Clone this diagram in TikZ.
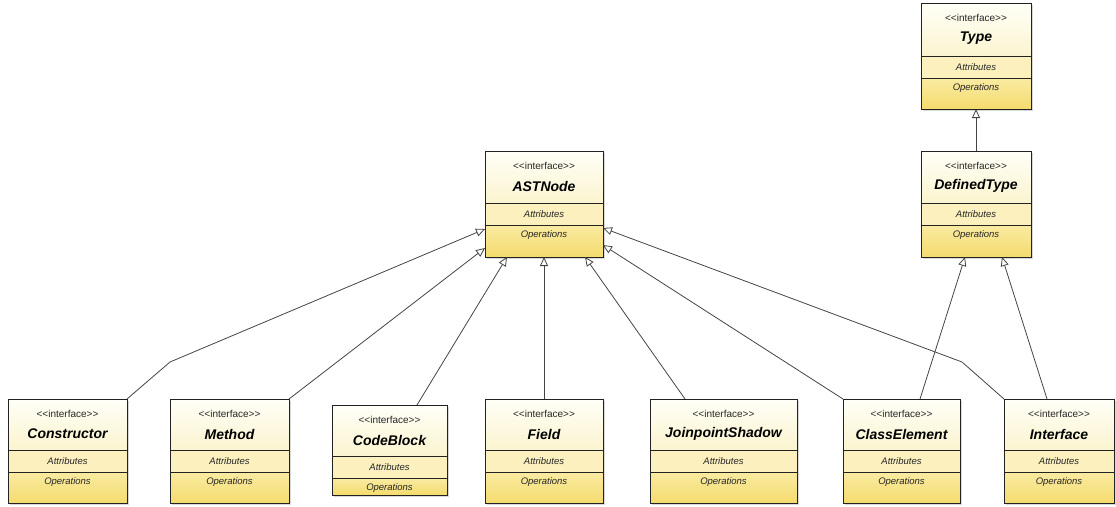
\documentclass[tikz,border=0pt]{standalone}
\usepackage{fontspec}
\setmainfont{Liberation Sans}
\usetikzlibrary{arrows.meta,calc,fit}

\definecolor{hdtop}{HTML}{FFFFF8}
\definecolor{hdbot}{HTML}{FBF4CF}
\definecolor{attrcol}{HTML}{FBF0BE}
\definecolor{optop}{HTML}{F9EBA2}
\definecolor{opbot}{HTML}{F5DB6E}
\definecolor{edgecol}{HTML}{222222}
\definecolor{linkcol}{HTML}{444444}

\tikzset{
  boxline/.style={draw=edgecol, line width=0.9pt},
  stereo/.style={font=\fontsize{10}{11}\selectfont, text=black!85},
  cname/.style={font=\fontsize{14}{15}\selectfont\bfseries\itshape},
  section/.style={font=\fontsize{9.5}{10}\selectfont\itshape, text=black!85},
  realizes/.style={draw=linkcol, line width=0.8pt,
    -{Triangle[open, length=9pt, width=8pt, fill=white]}},
  holder/.style={inner sep=0pt, outer sep=0pt, draw=none},
}

% #1 name, (#2,#3) top-left, (#4,#5) bottom-right, #6 attributes line, #7 operations line, #8 title
\newcommand\umliface[8]{%
  \fill[black!15] (#2+2,#3+2) rectangle (#4+2,#5+2);
  \shade[top color=hdtop, bottom color=hdbot] (#2,#3) rectangle (#4,#6);
  \fill[attrcol] (#2,#6) rectangle (#4,#7);
  \shade[top color=optop, bottom color=opbot] (#2,#7) rectangle (#4,#5);
  \draw[boxline] (#2,#6) -- (#4,#6) (#2,#7) -- (#4,#7);
  \draw[boxline] (#2,#3) rectangle (#4,#5);
  \coordinate (#1-tl) at (#2,#3);
  \coordinate (#1-br) at (#4,#5);
  \node[holder, fit=(#1-tl)(#1-br)] (#1) {};
  \node[stereo] (#1-st) at ({(#2+#4)/2},{#3+15}) {{<}{<}interface{>}{>}};
  \node[cname] (#1-nm) at ({(#2+#4)/2},{#3+35}) {#8};
  \node[section] (#1-at) at ({(#2+#4)/2},{(#6+#7)/2}) {Attributes};
  \node[section] (#1-op) at ({(#2+#4)/2},{#7+10}) {Operations};
}

\begin{document}
\begin{tikzpicture}[x=1pt, y=-1pt]
\useasboundingbox (0,0) rectangle (1116,506);

\umliface{type}{921}{3}{1031}{109}{56}{78}{Type}
\umliface{dt}{921}{151}{1031}{257}{203}{225}{DefinedType}
\umliface{ast}{485}{151}{603}{257}{203}{225}{ASTNode}

\umliface{con}{8}{399}{127}{503}{450}{472}{Constructor}
\umliface{meth}{170}{399}{289}{503}{450}{472}{Method}
\umliface{code}{332}{405}{447}{495}{456}{478}{CodeBlock}
\umliface{field}{485}{399}{603}{503}{450}{472}{Field}
\umliface{jps}{650}{399}{797}{503}{450}{472}{JoinpointShadow}
\umliface{ce}{843}{399}{960}{503}{450}{472}{ClassElement}
\umliface{iface}{1004}{399}{1114}{503}{450}{472}{Interface}

% bend points of the two outer connectors
\coordinate (conbend) at (170,362);
\coordinate (ifbend) at (962,362);

% realizations of ASTNode
\draw[realizes] (con.north east) -- (conbend) -- ($(ast.north west)+(0,78)$);
\draw[realizes] (meth.north east) -- ($(ast.north west)+(0,97)$);
\draw[realizes] ($(code.north west)+(85,0)$) -- ($(ast.south west)+(22,0)$);
\draw[realizes] (field.north) -- (ast.south);
\draw[realizes] ($(jps.north west)+(35,0)$) -- ($(ast.south west)+(100,0)$);
\draw[realizes] (ce.north west) -- ($(ast.north east)+(0,94)$);
\draw[realizes] (iface.north west) -- (ifbend) -- ($(ast.north east)+(0,77)$);

% realizations of DefinedType
\draw[realizes] ($(ce.north west)+(77,0)$) -- ($(dt.south west)+(44,0)$);
\draw[realizes] ($(iface.north west)+(43,0)$) -- ($(dt.south west)+(81,0)$);

% DefinedType extends Type
\draw[realizes] (dt.north) -- (type.south);
\end{tikzpicture}
\end{document}
